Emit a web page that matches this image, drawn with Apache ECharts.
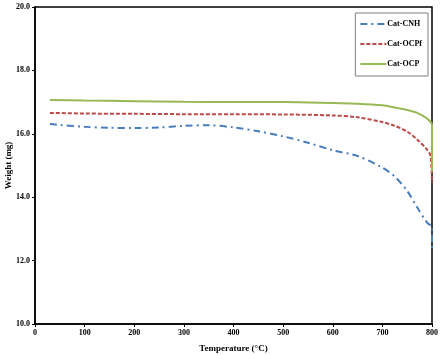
<!DOCTYPE html>
<html><head><meta charset="utf-8">
<script src="https://cdn.jsdelivr.net/npm/echarts@6/dist/echarts.min.js"></script>
<style>html,body{margin:0;padding:0;background:#fff}#c{width:443px;height:355px}</style>
</head><body><div id="c"></div>
<script>
var seriesNames = ['Cat-CNH', 'Cat-OCPf', 'Cat-OCP'];
var cnhTemp = [30, 50, 100, 150, 200, 250, 300, 350, 400, 450, 500, 550, 600, 650, 700, 725, 750, 770, 790, 800, 800];
var cnhWeight = [16.31, 16.28, 16.22, 16.19, 16.18, 16.2, 16.25, 16.27, 16.2, 16.08, 15.92, 15.72, 15.48, 15.3, 14.93, 14.65, 14.2, 13.68, 13.2, 13.05, 12.4];
var ocpfTemp = [30, 100, 200, 300, 400, 500, 600, 650, 700, 725, 750, 770, 790, 797, 800];
var ocpfWeight = [16.66, 16.64, 16.63, 16.62, 16.62, 16.61, 16.58, 16.52, 16.37, 16.25, 16.07, 15.82, 15.5, 15.3, 14.45];
var ocpTemp = [30, 100, 200, 300, 400, 500, 550, 600, 650, 700, 725, 750, 770, 790, 800, 800];
var ocpWeight = [17.07, 17.05, 17.03, 17.01, 17.0, 17.0, 16.99, 16.97, 16.95, 16.9, 16.83, 16.75, 16.66, 16.48, 16.28, 14.8];
var xTicks = [0, 100, 200, 300, 400, 500, 600, 700, 800];
var yTicks = [10.0, 12.0, 14.0, 16.0, 18.0, 20.0];

function pairs(xs, ys) { return xs.map(function (x, i) { return [x, ys[i]]; }); }

var font = 'Liberation Serif';
var chart = echarts.init(document.getElementById('c'), null, {renderer: 'canvas'});
chart.setOption({
  animation: false,
  backgroundColor: '#fff',
  grid: {left: 35, right: 11, top: 7, bottom: 31, containLabel: false, outerBoundsMode: 'none',
    show: true, borderColor: '#000', borderWidth: 1.5, backgroundColor: 'transparent'},
  legend: {
    right: 15, top: 13, orient: 'vertical', itemGap: 12, itemWidth: 26, itemHeight: 8,
    backgroundColor: '#fff', borderColor: '#7f7f7f', borderWidth: 1, padding: [7, 6, 8, 4],
    itemStyle: {opacity: 0},
    textStyle: {fontFamily: font, fontWeight: 'bold', fontSize: 8, color: '#000', padding: [0, 0, 0, -4]},
    data: seriesNames.map(function (n) { return {name: n}; })
  },
  xAxis: {
    type: 'value', min: xTicks[0], max: xTicks[xTicks.length - 1], interval: 100,
    name: 'Temperature (\u00B0C)', nameLocation: 'middle', nameGap: 20, nameMoveOverlap: false,
    nameTextStyle: {fontFamily: font, fontWeight: 'bold', fontSize: 9, color: '#000'},
    axisLine: {lineStyle: {color: '#000', width: 1.5}},
    axisTick: {show: true, length: 3, lineStyle: {color: '#000'}},
    axisLabel: {fontFamily: font, fontWeight: 'bold', fontSize: 8, color: '#000', margin: 5},
    splitLine: {show: false}
  },
  yAxis: {
    type: 'value', min: yTicks[0], max: yTicks[yTicks.length - 1], interval: 2,
    name: 'Weight (mg)', nameLocation: 'middle', nameGap: 22, nameMoveOverlap: false,
    nameTextStyle: {fontFamily: font, fontWeight: 'bold', fontSize: 9, color: '#000'},
    axisLine: {show: true, lineStyle: {color: '#000', width: 1.5}},
    axisTick: {show: true, length: 3, lineStyle: {color: '#000'}},
    axisLabel: {fontFamily: font, fontWeight: 'bold', fontSize: 8, color: '#000', margin: 5,
      formatter: function (v) { return v.toFixed(1); }},
    splitLine: {show: false}
  },
  series: [
    {name: seriesNames[0], type: 'line', data: pairs(cnhTemp, cnhWeight), showSymbol: false, symbol: 'none', smooth: 0.3,
      lineStyle: {color: '#4A7EBB', width: 2, type: [7, 4, 2, 4]}, itemStyle: {color: '#4A7EBB'}},
    {name: seriesNames[1], type: 'line', data: pairs(ocpfTemp, ocpfWeight), showSymbol: false, symbol: 'none', smooth: 0.3,
      lineStyle: {color: '#BE4B48', width: 2, type: [4, 2]}, itemStyle: {color: '#BE4B48'}},
    {name: seriesNames[2], type: 'line', data: pairs(ocpTemp, ocpWeight), showSymbol: false, symbol: 'none', smooth: 0.3,
      lineStyle: {color: '#98B954', width: 2, type: 'solid'}, itemStyle: {color: '#98B954'}}
  ]
});
</script></body></html>
